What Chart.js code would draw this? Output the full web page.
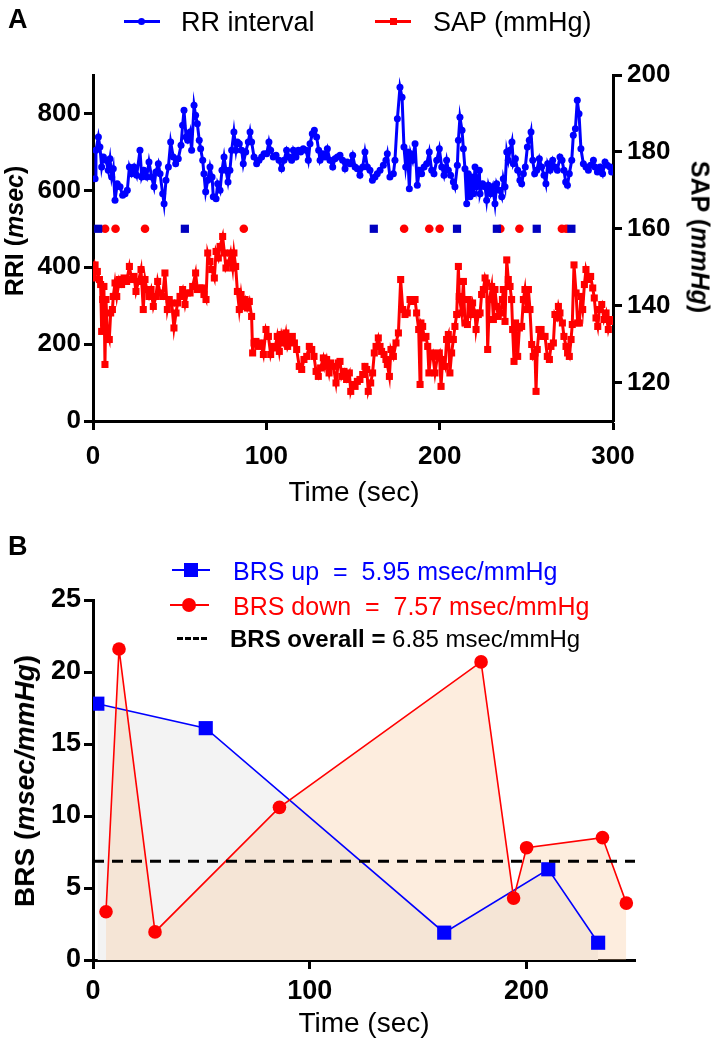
<!DOCTYPE html>
<html><head><meta charset="utf-8">
<script src="https://cdn.jsdelivr.net/npm/chart.js@4/dist/chart.umd.min.js"></script>
<style>
html,body{margin:0;padding:0;background:#fff;}
body{width:716px;height:1050px;position:relative;overflow:hidden;font-family:'Liberation Sans',Arial,Helvetica,sans-serif;color:#000;}
canvas{position:absolute;left:0;}
.t{position:absolute;white-space:pre;line-height:1;}
.c{transform:translate(-50%,-50%);}
.l{transform:translate(0,-50%);}
.rl{transform:translate(-50%,-50%) rotate(-90deg);}
.rr{transform:translate(-50%,-50%) rotate(90deg);}
.b{font-weight:bold;}
.i{font-style:italic;}
.ln{position:absolute;}
</style>
</head><body>
<canvas id="cA" width="716" height="520" style="top:0"></canvas>
<canvas id="cB" width="716" height="520" style="top:530px"></canvas>

<div class="t l b" style="left:8px;top:19px;font-size:27px;">A</div>
<div class="t l b" style="left:8px;top:546px;font-size:27px;">B</div>

<!-- legend A -->
<div class="ln" style="left:124px;top:20px;width:36px;height:3px;background:#0000ff;"></div>
<div class="ln" style="left:138px;top:18px;width:7px;height:7px;border-radius:50%;background:#0000ff;"></div>
<div class="t l" style="left:181px;top:22px;font-size:27px;">RR interval</div>
<div class="ln" style="left:375px;top:20px;width:36px;height:3px;background:#ff0000;"></div>
<div class="ln" style="left:390px;top:18px;width:7px;height:7px;background:#ff0000;"></div>
<div class="t l" style="left:433px;top:22px;font-size:27px;">SAP (mmHg)</div>

<div class="t rl b" style="left:14px;top:231px;font-size:25px;">RRI (<span class="i">msec</span>)</div>
<div class="t rr b" style="left:700px;top:237px;font-size:25px;">SAP (<span class="i">mmHg</span>)</div>
<div class="t c" style="left:354px;top:492px;font-size:28px;">Time (sec)</div>

<!-- legend B -->
<div class="ln" style="left:172px;top:569px;width:38px;height:2px;background:#0000ff;"></div>
<div class="ln" style="left:184px;top:563px;width:14px;height:14px;background:#0000ff;"></div>
<div class="t l" style="left:233px;top:571px;font-size:25px;color:#0000ff;">BRS up  =  5.95 msec/mmHg</div>
<div class="ln" style="left:170px;top:604px;width:39px;height:2px;background:#ff0000;"></div>
<div class="ln" style="left:182px;top:598px;width:14px;height:14px;border-radius:50%;background:#ff0000;"></div>
<div class="t l" style="left:233px;top:606px;font-size:25px;color:#ff0000;">BRS down  =  7.57 msec/mmHg</div>
<div class="ln" style="left:177px;top:637px;width:30px;height:0;border-top:3px dashed #000;"></div>
<div class="t l" style="left:230px;top:639px;font-size:24px;"><span class="b">BRS overall =</span> 6.85 msec/mmHg</div>

<div class="t rl b" style="left:25px;top:781px;font-size:28px;">BRS (<span class="i">msec/mmHg</span>)</div>
<div class="t c" style="left:364px;top:1023px;font-size:28px;">Time (sec)</div>

<script>
// ---------- Panel A data ----------
const rriTime = [
1.2,1.7,3.1,4.0,5.0,6.0,7.5,8.8,9.8,10.8,
11.7,12.7,14.0,15.6,17.1,18.5,19.8,21.0,22.3,23.7,
25.2,27.1,28.1,29.4,31.0,32.3,33.8,35.2,36.3,37.7,
38.7,40.2,41.0,42.1,43.5,44.8,46.3,47.7,49.2,50.8,
51.7,52.5,53.7,54.6,56.0,56.9,58.3,59.2,60.2,61.3,
62.1,63.3,64.0,65.0,66.2,67.5,68.7,69.4,71.0,71.9,
73.3,74.4,75.6,76.7,77.9,79.0,80.0,81.3,82.5,83.3,
84.4,85.8,86.7,88.1,89.6,90.6,91.5,92.9,94.4,95.8,
97.3,98.7,100.2,101.5,102.5,104.0,105.6,107.3,108.8,110.2,
111.7,113.1,114.6,115.6,117.1,118.5,119.8,121.3,122.9,124.2,
125.2,126.5,127.7,129.0,130.2,131.0,132.5,133.8,135.2,136.7,
138.3,139.6,141.0,
142.5,144.0,145.4,146.7,148.3,149.8,151.2,152.5,154.0,155.6,
156.9,158.3,159.8,161.2,162.7,164.0,165.6,167.5,169.0,169.8,
171.3,173.3,174.2,175.6,177.1,178.3,179.4,180.4,181.5,182.5,
183.3,184.4,185.8,187.1,188.3,189.6,191.0,192.5,194.0,195.4,
196.7,198.3,199.8,201.2,202.5,204.0,205.0,206.3,207.9,208.8,
210.2,210.8,211.7,212.9,213.7,214.6,215.6,216.5,217.5,218.5,
219.4,220.4,221.3,222.9,223.3,224.8,226.2,227.1,228.1,229.4,
230.6,231.9,232.9,234.4,235.8,236.7,237.7,238.7,239.6,240.6,
241.7,242.5,243.7,245.0,246.3,247.3,248.3,249.4,250.6,251.7,
252.7,253.7,254.8,256.0,257.5,258.8,260.2,261.3,262.3,263.7,
265.2,266.5,267.9,269.4,270.6,271.7,272.7,273.7,274.8,276.2,
277.1,278.3,279.4,280.4,281.5,282.9,284.4,285.8,287.1,288.7,
289.6,291.0,292.5,294.0,295.4,296.7,298.3,299.2];
const rriValues = [
630,704,739,713,661,687,678,652,682,635,
656,574,617,609,587,591,600,661,643,661,
639,704,635,652,635,674,635,609,648,669,
643,591,565,626,661,726,687,669,682,717,
769,808,739,730,752,704,821,795,773,730,
708,678,643,596,626,661,635,583,578,617,
600,652,687,652,622,652,704,752,704,726,
721,704,669,700,726,752,726,687,669,678,
687,695,695,726,704,687,691,678,656,678,
704,687,678,704,687,704,700,708,704,678,
721,747,756,739,704,678,695,687,708,678,
661,682,687,
691,678,656,674,669,691,661,656,639,661,
700,661,652,626,635,643,652,665,678,695,
635,643,678,786,868,842,713,661,700,604,
695,678,721,613,652,643,661,669,700,652,
643,678,708,661,639,678,652,639,622,609,
665,730,790,756,708,656,565,643,583,635,
591,661,609,652,591,617,609,574,613,591,
609,565,617,600,583,630,609,700,678,704,
726,669,682,652,626,617,643,661,713,730,
752,678,643,652,682,661,639,617,669,652,
678,661,652,687,678,652,622,613,643,678,
743,760,834,799,708,669,661,652,665,678,
661,648,661,643,674,665,661,648];

const sapTime = [
0.2,1.2,2.5,3.7,4.4,5.0,5.6,6.3,6.9,7.5,
8.3,9.4,10.2,11.2,11.7,12.7,13.7,15.2,16.5,17.9,
19.4,21.0,22.3,23.7,24.8,26.2,27.7,29.0,30.0,31.0,
32.3,33.5,34.8,36.3,37.3,38.7,40.2,41.5,42.9,44.0,
45.4,46.7,47.9,48.8,50.2,51.7,53.1,54.4,56.0,57.5,
59.2,60.2,61.7,62.9,64.0,65.2,66.2,67.5,68.5,70.0,
71.0,72.3,73.3,74.8,75.8,76.7,78.1,79.4,80.6,81.3,
82.3,83.3,84.4,85.4,86.3,87.7,89.0,90.2,91.5,92.1,
92.9,94.0,95.4,96.7,98.3,99.8,101.2,102.5,103.7,105.0,
106.3,107.5,108.8,110.2,111.3,112.3,113.7,115.0,116.2,117.5,
119.0,120.4,121.7,123.3,124.8,126.2,127.5,128.7,130.0,131.3,
132.9,133.8,134.8,136.2,137.1,138.7,140.2,141.5,
142.5,143.5,144.8,146.3,147.9,148.7,149.8,151.2,152.5,154.0,
155.6,156.9,157.9,158.8,160.2,161.3,162.3,163.3,164.6,165.6,
166.5,167.9,169.0,169.8,171.0,171.9,173.3,174.8,176.2,177.5,
178.7,180.0,181.3,182.9,184.4,185.8,186.7,187.9,188.7,189.2,
190.2,191.0,192.1,193.1,193.8,194.8,195.9,197.3,198.7,199.8,
200.8,201.7,203.1,204.0,205.0,205.9,206.9,207.9,208.8,209.8,
210.8,211.3,212.7,213.7,214.6,216.0,216.5,217.9,219.0,220.4,
221.0,222.3,223.3,224.2,225.2,226.2,227.1,227.7,228.7,230.0,
231.0,231.9,232.9,233.8,235.2,236.2,236.7,237.7,238.7,239.6,
240.6,241.5,242.1,242.9,243.8,245.0,246.0,247.3,248.3,249.2,
250.2,251.2,252.1,253.1,254.0,255.0,255.6,256.3,257.3,258.5,
259.4,260.8,262.1,263.3,264.2,265.6,266.5,267.5,268.5,269.4,
270.8,271.7,272.9,273.8,274.8,275.8,276.5,277.5,278.7,279.6,
280.6,281.5,282.5,283.5,284.4,285.8,287.1,288.3,289.2,290.2,
291.2,292.1,293.5,294.8,296.0,297.3,298.7,299.8];
const sapValues = [
147.2,150.6,148.9,146.8,145.5,133.3,141.6,145.0,124.7,141.6,
132.9,131.2,138.1,139.0,142.4,145.9,142.4,146.8,145.5,147.2,
146.3,150.2,146.8,147.6,143.7,146.3,149.4,139.0,146.8,144.2,
142.4,144.2,139.8,142.4,146.3,143.3,142.4,148.5,139.0,141.6,
140.7,134.2,138.1,140.7,142.4,144.2,140.3,143.3,143.3,145.0,
148.5,144.2,144.6,144.6,142.9,141.6,153.7,151.5,149.4,147.2,
154.1,152.4,155.4,158.0,153.7,149.8,151.1,153.7,149.8,153.7,
150.2,143.7,139.0,142.9,139.8,141.6,139.4,141.1,137.2,127.7,
130.3,130.7,129.4,130.3,127.3,133.8,132.0,127.3,129.4,129.0,
132.0,128.1,132.5,130.3,132.9,129.4,131.2,132.0,130.3,128.6,
124.2,123.4,126.0,126.8,129.4,128.6,126.8,122.9,121.6,123.8,
126.4,124.2,126.0,122.5,125.1,124.2,119.9,125.1,
125.5,121.6,122.9,120.8,122.5,117.7,119.5,119.0,120.3,120.8,
122.1,124.2,123.4,117.7,119.9,122.5,127.7,129.4,131.6,129.4,
128.1,127.3,126.0,124.7,121.6,128.6,126.8,130.3,132.9,146.8,
139.0,137.7,138.1,141.6,141.1,141.6,138.1,133.8,119.5,135.5,
134.6,131.6,132.0,129.4,122.5,126.8,127.7,122.5,126.8,127.7,
119.0,126.0,124.2,131.2,132.5,122.5,127.7,131.2,134.6,137.7,
150.2,142.4,138.1,146.3,135.5,135.1,141.6,137.7,140.7,138.1,
133.8,137.7,138.1,142.9,144.2,147.2,145.9,128.6,141.6,145.0,
136.4,144.2,139.8,137.2,138.1,141.6,144.2,135.9,151.9,146.8,
145.0,141.6,133.8,125.5,135.5,126.8,134.2,134.6,141.6,144.2,
139.0,144.2,139.0,129.9,126.8,127.7,117.7,128.6,133.8,133.8,
132.0,132.0,126.8,126.0,129.4,130.3,137.7,136.8,139.8,138.1,
135.5,132.0,129.4,127.7,126.8,131.2,135.1,150.6,143.3,135.5,
135.5,142.4,139.0,145.5,149.4,146.8,147.6,144.6,142.0,136.8,
134.6,139.0,140.3,136.4,138.1,133.8,136.4,135.9];

// event markers (plotted on SAP axis at a fixed level)
const upEventTimes = [3, 53, 162, 210, 233, 256, 276];
const downEventTimes = [7, 13, 30, 87, 179.5, 194, 200, 235, 246, 270.5, 273];
const eventLevel = 160;

const timeTicksA = [0, 100, 200, 300];
const rriTicks = [0, 200, 400, 600, 800];
const sapTicks = [120, 140, 160, 180, 200];

// ---------- Panel B data ----------
const brsUpTime = [2, 52, 162, 210, 233];
const brsUpValues = [17.8, 16.1, 1.9, 6.3, 1.2];
const brsDownTime = [6, 12, 28.6, 86, 179, 194, 200, 235, 246];
const brsDownValues = [3.35, 21.6, 1.95, 10.6, 20.7, 4.3, 7.8, 8.5, 3.95];
const brsOverall = 6.85;
const brsLineRange = [0, 250];
const timeTicksB = [0, 100, 200];
const brsTicks = [0, 5, 10, 15, 20, 25];

// ---------- helpers ----------
const FONT = "'Liberation Sans', Arial, Helvetica, sans-serif";
const zip = (xs, ys) => xs.map((x, i) => ({x: x, y: ys[i]}));
const fixedTicks = arr => (s => { s.ticks = arr.map(v => ({value: v})); });

function axis(extra, ticksArr, fontSize, pad, fitFn) {
  return Object.assign({
    type: 'linear',
    border: {display: true, color: '#000', width: 3},
    grid: {drawOnChartArea: false, drawTicks: true, tickLength: 9, tickWidth: 3, tickColor: '#000'},
    ticks: {color: '#000', font: {family: FONT, size: fontSize, weight: 'bold'}, padding: pad, maxRotation: 0, autoSkip: false},
    afterBuildTicks: fixedTicks(ticksArr),
    afterFit: fitFn
  }, extra);
}

// ---------- Chart A ----------
new Chart(document.getElementById('cA'), {
  type: 'line',
  data: {
    datasets: [
      {label: 'up events', data: upEventTimes.map(t => ({x: t, y: eventLevel})), yAxisID: 'yR',
       showLine: false, pointStyle: 'rect', pointRadius: 5.8, pointBackgroundColor: '#0000c0', pointBorderColor: '#0000c0', pointBorderWidth: 0},
      {label: 'down events', data: downEventTimes.map(t => ({x: t, y: eventLevel})), yAxisID: 'yR',
       showLine: false, pointStyle: 'circle', pointRadius: 4.3, pointBackgroundColor: '#ff0000', pointBorderColor: '#ff0000', pointBorderWidth: 0},
      {label: 'RR interval', data: zip(rriTime, rriValues), yAxisID: 'yL',
       borderColor: '#0000ff', borderWidth: 3, pointStyle: 'circle', pointRadius: 3.5,
       pointBackgroundColor: '#0000ff', pointBorderColor: '#0000ff', pointBorderWidth: 0, tension: 0, fill: false},
      {label: 'SAP (mmHg)', data: zip(sapTime, sapValues), yAxisID: 'yR',
       borderColor: '#ff0000', borderWidth: 3, pointStyle: 'rect', pointRadius: 5,
       pointBackgroundColor: '#ff0000', pointBorderColor: '#ff0000', pointBorderWidth: 0, tension: 0, fill: false}
    ]
  },
  options: {
    responsive: false, animation: false, devicePixelRatio: 1,
    layout: {padding: {top: 75, left: 0, right: 0, bottom: 0}},
    plugins: {legend: {display: false}, tooltip: {enabled: false}},
    scales: {
      x: axis({position: 'bottom', min: 0, max: 300}, timeTicksA, 26, 11, s => { s.height = 99; }),
      yL: axis({position: 'left', min: 0, max: 900}, rriTicks, 26, 3, s => { s.width = 93; }),
      yR: axis({position: 'right', min: 110, max: 200}, sapTicks, 26, 5, s => { s.width = 103; })
    }
  }
});

// ---------- Chart B ----------
new Chart(document.getElementById('cB'), {
  type: 'line',
  data: {
    datasets: [
      {label: 'BRS overall', data: brsLineRange.map(t => ({x: t, y: brsOverall})),
       borderColor: '#000', borderWidth: 3, borderDash: [11, 8], pointRadius: 0, fill: false},
      {label: 'BRS down', data: zip(brsDownTime, brsDownValues),
       borderColor: '#ff0000', borderWidth: 1.6, pointStyle: 'circle', pointRadius: 6.8,
       pointBackgroundColor: '#ff0000', pointBorderColor: '#ff0000', pointBorderWidth: 0, tension: 0,
       fill: {target: 'origin', above: 'rgba(249,200,155,0.33)'}},
      {label: 'BRS up', data: zip(brsUpTime, brsUpValues),
       borderColor: '#0000ff', borderWidth: 1.6, pointStyle: 'rect', pointRadius: 10,
       pointBackgroundColor: '#0000ff', pointBorderColor: '#0000ff', pointBorderWidth: 0, tension: 0,
       fill: {target: 'origin', above: 'rgb(243,243,243)'}}
    ]
  },
  options: {
    responsive: false, animation: false, devicePixelRatio: 1,
    layout: {padding: {top: 70, left: 0, right: 81, bottom: 0}},
    plugins: {legend: {display: false}, tooltip: {enabled: false}, filler: {drawTime: 'beforeDatasetsDraw'}},
    scales: {
      x: axis({position: 'bottom', min: 0, max: 250}, timeTicksB, 27, 6, s => { s.height = 90; }),
      y: axis({position: 'left', min: 0, max: 25}, brsTicks, 27, 3, s => { s.width = 93; })
    }
  }
});
</script>
</body></html>
